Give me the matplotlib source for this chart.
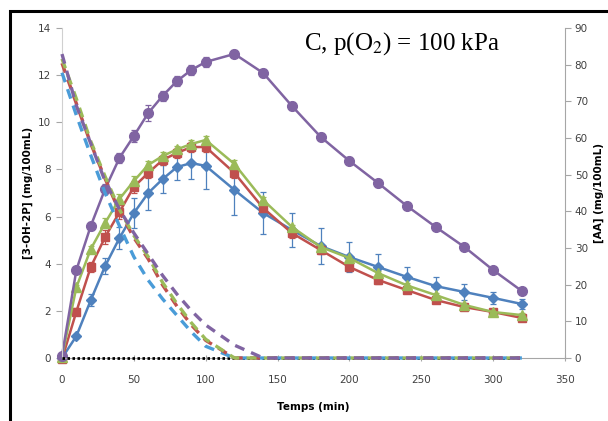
import numpy as np
import matplotlib
matplotlib.use('Agg')
import matplotlib.pyplot as plt
from matplotlib.patches import Rectangle

plt.rcParams['font.family'] = ['Liberation Sans Narrow', 'DejaVu Sans']
plt.rcParams['mathtext.fontset'] = 'stix'

# sampling times (min)
time = [0, 10, 20, 30, 40, 50, 60, 70, 80, 90, 100, 120, 140, 160, 180, 200, 220, 240, 260, 280, 300, 320]

# [3-OH-2P] (mg/100mL), left axis
blue_vals = [0.0, 0.93, 2.45, 3.9, 5.09, 6.15, 7.0, 7.59, 8.1, 8.27, 8.15, 7.13, 6.15, 5.43, 4.75, 4.28, 3.86, 3.44, 3.05, 2.8, 2.55, 2.29]
blue_err = [0.0, 0.1, 0.25, 0.35, 0.45, 0.65, 0.7, 0.6, 0.55, 0.68, 1.0, 1.06, 0.9, 0.72, 0.76, 0.65, 0.55, 0.4, 0.4, 0.35, 0.27, 0.2]
red_vals = [-0.05, 1.97, 3.86, 5.13, 6.19, 7.26, 7.85, 8.4, 8.7, 8.95, 8.95, 7.85, 6.36, 5.3, 4.58, 3.86, 3.31, 2.88, 2.46, 2.16, 1.95, 1.7]
red_err = [0.0, 0.15, 0.2, 0.3, 0.3, 0.25, 0.2, 0.2, 0.2, 0.2, 0.2, 0.2, 0.2, 0.2, 0.15, 0.15, 0.15, 0.1, 0.1, 0.1, 0.1, 0.1]
green_vals = [0.05, 3.0, 4.62, 5.73, 6.75, 7.51, 8.19, 8.57, 8.85, 9.08, 9.25, 8.23, 6.7, 5.56, 4.71, 4.24, 3.6, 3.08, 2.67, 2.25, 1.95, 1.82]
green_err = [0.0, 0.1, 0.15, 0.2, 0.2, 0.2, 0.15, 0.15, 0.15, 0.15, 0.15, 0.15, 0.15, 0.1, 0.1, 0.1, 0.1, 0.1, 0.1, 0.1, 0.1, 0.1]
purple_vals = [0.1, 3.73, 5.6, 7.17, 8.49, 9.42, 10.39, 11.12, 11.75, 12.22, 12.56, 12.9, 12.09, 10.69, 9.38, 8.36, 7.42, 6.45, 5.56, 4.71, 3.73, 2.84]
purple_err = [0.0, 0.1, 0.15, 0.2, 0.2, 0.25, 0.35, 0.2, 0.2, 0.2, 0.2, 0.15, 0.15, 0.15, 0.15, 0.15, 0.15, 0.1, 0.1, 0.1, 0.1, 0.1]

# [AA] (mg/100mL), right axis
aa_blue = [77.8, 66.2, 55.3, 45.0, 36.0, 27.6, 21.2, 16.1, 11.6, 7.1, 3.2, 0, 0, 0, 0, 0, 0, 0, 0, 0, 0, 0]
aa_red = [80.4, 69.4, 58.5, 48.9, 39.9, 32.8, 27.0, 19.9, 14.1, 9.0, 4.8, 0, 0, 0, 0, 0, 0, 0, 0, 0, 0, 0]
aa_green = [81.6, 70.7, 59.1, 49.5, 40.5, 33.4, 27.6, 20.6, 14.8, 9.6, 5.1, 0, 0, 0, 0, 0, 0, 0, 0, 0, 0, 0]
aa_purple = [82.9, 68.8, 58.5, 48.2, 40.5, 34.1, 28.3, 22.5, 17.4, 12.9, 9.0, 3.5, 0, 0, 0, 0, 0, 0, 0, 0, 0, 0]
aa_zero = [0] * len(time)

x_ticks = [0, 50, 100, 150, 200, 250, 300, 350]
left_ticks = [0, 2, 4, 6, 8, 10, 12, 14]
right_ticks = [0, 10, 20, 30, 40, 50, 60, 70, 80, 90]

BLUE = '#4F81BD'
RED = '#C0504D'
GREEN = '#9BBB59'
PURPLE = '#8064A2'
LIGHT_BLUE = '#4A9CD8'
AXIS_GREY = '#A6A6A6'


def style_axis(ax):
    """
    Excel like axis look: thin grey spines, small outward ticks
    """
    for side in ['top', 'right', 'left', 'bottom']:
        ax.spines[side].set_visible(False)
    ax.tick_params(length=4, width=0.8, color=AXIS_GREY, labelsize=7.5, labelcolor='#404040')


fig = plt.figure(figsize=(6.08, 4.21), dpi=100)
ax = fig.add_axes([62 / 608, 1 - 358 / 421, (565 - 62) / 608, (358 - 28) / 421])
ax2 = ax.twinx()

series = [
    (blue_vals, blue_err, BLUE, 'D', 5.0),
    (red_vals, red_err, RED, 's', 6.0),
    (green_vals, green_err, GREEN, '^', 6.5),
    (purple_vals, purple_err, PURPLE, 'o', 7.0),
]
for vals, err, color, marker, ms in series:
    ax.errorbar(time, vals, yerr=err, color=color, lw=1.8, marker=marker, ms=ms,
                ecolor=color, elinewidth=0.9, capsize=2.5, capthick=0.9, clip_on=False)

ax2.plot(time, aa_zero, color='black', lw=2.0, linestyle=(0, (0.9, 0.9)), clip_on=False)
dashed = [
    (aa_blue, LIGHT_BLUE),
    (aa_red, RED),
    (aa_green, GREEN),
    (aa_purple, PURPLE),
]
for vals, color in dashed:
    ax2.plot(time, vals, color=color, lw=2.4, linestyle=(0, (3.0, 2.2)), clip_on=False)

ax.set_xlim(0, 350)
ax.set_ylim(0, 14)
ax2.set_ylim(0, 90)
ax.set_xticks(x_ticks)
ax.set_yticks(left_ticks)
ax2.set_yticks(right_ticks)

style_axis(ax)
style_axis(ax2)
ax.spines['left'].set_visible(True)
ax.spines['left'].set_color('#D0D0D0')
ax.spines['bottom'].set_visible(True)
ax.spines['bottom'].set_color(AXIS_GREY)
ax2.spines['right'].set_visible(True)
ax2.spines['right'].set_color(AXIS_GREY)
ax.tick_params(axis='x', pad=10, direction='inout', length=5)
ax.tick_params(axis='y', pad=4)
ax2.tick_params(axis='y', pad=3)

ax.set_xlabel('Temps (min)', fontsize=7.5, fontweight='bold', labelpad=12)
ax.set_ylabel('[3-OH-2P] (mg/100mL)', fontsize=7.5, fontweight='bold', labelpad=3)
ax2.set_ylabel('[AA] (mg/100mL)', fontsize=7.5, fontweight='bold', labelpad=4)

fig.text(402 / 608, 1 - 44 / 421, r'C, p(O$_2$) = 100 kPa',
         family='Liberation Serif', fontsize=18, ha='center', va='center')

fig.add_artist(Rectangle((10 / 608, -0.1), 1.2, 1.1 - 11 / 421, transform=fig.transFigure,
                         fill=False, edgecolor='black', lw=2.2, clip_on=False))

plt.savefig('out.png', dpi=100)
